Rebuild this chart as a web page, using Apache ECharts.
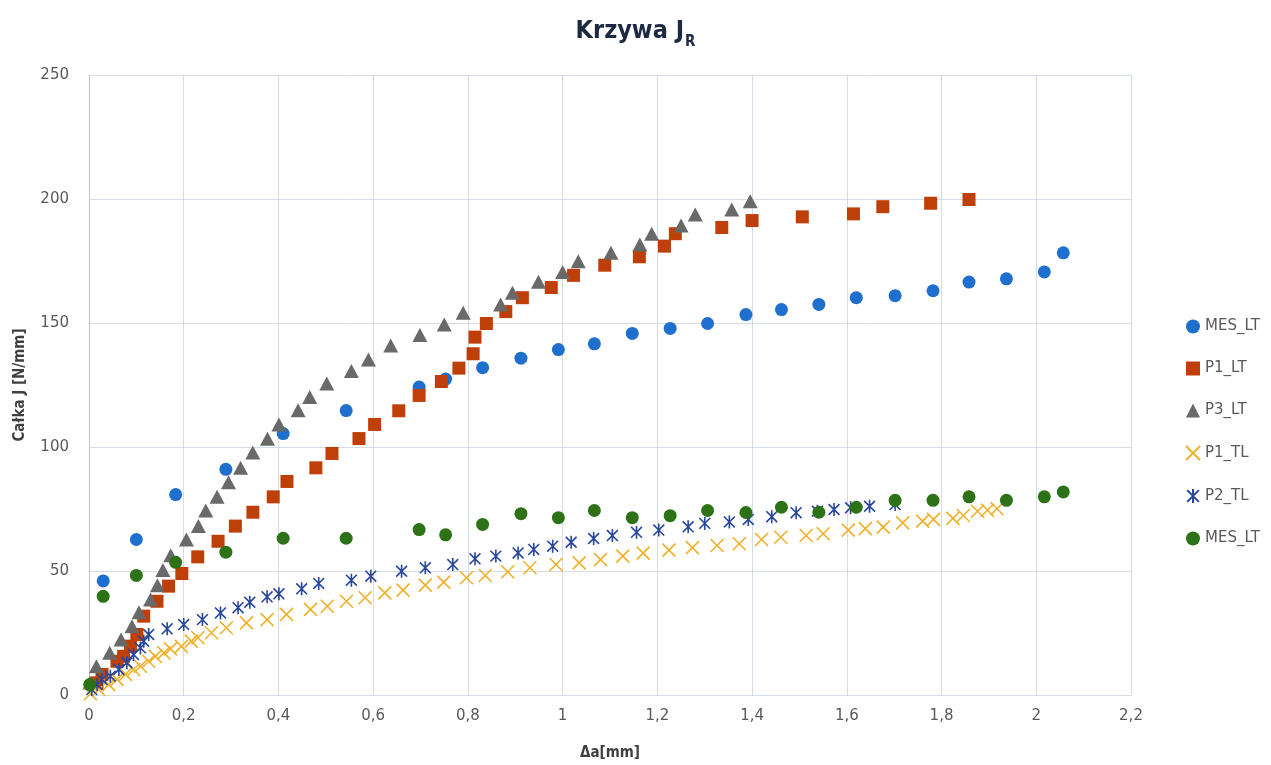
<!DOCTYPE html>
<html>
<head>
<meta charset="utf-8">
<title>Krzywa JR</title>
<script src="https://cdn.jsdelivr.net/npm/echarts@6/dist/echarts.min.js"></script>
<style>
  html, body { margin: 0; padding: 0; background: #fff; }
  #chart { width: 1271px; height: 765px; }
</style>
</head>
<body>
<div id="chart"></div>
<script>
// Axis ticks (Δa in mm, J in N/mm)
const xTicks = [0, 0.2, 0.4, 0.6, 0.8, 1, 1.2, 1.4, 1.6, 1.8, 2, 2.2];
const yTicks = [0, 50, 100, 150, 200, 250];

// Series names as shown in the legend
const seriesNames = ['MES_LT', 'P1_LT', 'P3_LT', 'P1_TL', 'P2_TL', 'MES_LT'];

// [Δa, J] points per series
const mesLtUpper = [
  [0.03, 46], [0.10, 62.7], [0.183, 80.8], [0.289, 91], [0.41, 105.4], [0.543, 114.7],
  [0.697, 124.2], [0.753, 127.4], [0.831, 132], [0.912, 135.8], [0.991, 139.3],
  [1.067, 141.6], [1.147, 145.8], [1.227, 147.8], [1.306, 149.8], [1.387, 153.4],
  [1.462, 155.4], [1.541, 157.5], [1.62, 160.2], [1.702, 161], [1.782, 163],
  [1.858, 166.5], [1.937, 167.8], [2.017, 170.6], [2.057, 178.3]
];

const p1Lt = [
  [0.017, 4.9], [0.0275, 8.3], [0.059, 13.6], [0.073, 15.6], [0.0875, 19.7], [0.101, 24.4],
  [0.1155, 31.8], [0.1436, 37.8], [0.168, 43.9], [0.196, 49.0], [0.2296, 55.7], [0.2725, 62.0],
  [0.309, 68.1], [0.346, 73.7], [0.389, 79.9], [0.418, 86.1], [0.479, 91.6], [0.513, 97.4],
  [0.570, 103.4], [0.603, 109.1], [0.654, 114.6], [0.697, 120.8], [0.744, 126.4],
  [0.781, 131.8], [0.811, 137.6], [0.815, 144.3], [0.839, 149.8], [0.880, 154.6],
  [0.915, 160.2], [0.976, 164.3], [1.023, 169.2], [1.089, 173.3], [1.162, 176.7],
  [1.215, 181.0], [1.238, 186.0], [1.336, 188.5], [1.400, 191.3], [1.506, 192.8],
  [1.614, 194.0], [1.676, 196.9], [1.777, 198.3], [1.858, 199.8]
];

const p3Lt = [
  [0.002, 5], [0.0156, 11.6], [0.0437, 17.0], [0.0676, 22.4], [0.0908, 27.7], [0.1056, 33.4],
  [0.130, 38.5], [0.1445, 44.3], [0.156, 50.4], [0.1726, 56.4], [0.2057, 62.7], [0.231, 68.1],
  [0.2465, 74.4], [0.2704, 79.9], [0.2945, 85.8], [0.320, 91.6], [0.3458, 97.8],
  [0.3768, 103.3], [0.401, 109.1], [0.4415, 114.8], [0.466, 120.2], [0.502, 125.6],
  [0.554, 130.6], [0.590, 135.3], [0.637, 140.9], [0.6986, 145.2], [0.750, 149.4],
  [0.790, 154.1], [0.869, 157.5], [0.894, 162.2], [0.949, 166.6], [1.000, 170.6],
  [1.033, 174.9], [1.102, 178.3], [1.163, 181.7], [1.188, 186.0], [1.250, 189.3],
  [1.280, 193.8], [1.357, 195.8], [1.396, 199.1]
];

const p1Tl = [
  [0.003, 0.5], [0.0205, 2.2], [0.0416, 4.2], [0.059, 6.3], [0.077, 8.3], [0.0944, 10.3],
  [0.1086, 11.6], [0.126, 13.6], [0.140, 15.6], [0.158, 17.0], [0.172, 18.6], [0.195, 19.6],
  [0.216, 21.7], [0.230, 23.1], [0.2586, 25.1], [0.290, 27.1], [0.3325, 29.1], [0.376, 30.4],
  [0.417, 32.5], [0.4677, 34.5], [0.503, 35.8], [0.5437, 37.8], [0.583, 39.2], [0.6245, 41.2],
  [0.663, 42.3], [0.710, 44.3], [0.749, 45.5], [0.797, 47.3], [0.8365, 48.2], [0.884, 49.7],
  [0.931, 51.3], [0.986, 52.6], [1.035, 53.3], [1.080, 54.6], [1.127, 56.0], [1.170, 57.2],
  [1.2245, 58.4], [1.274, 59.4], [1.326, 60.3], [1.373, 61.0], [1.420, 62.7], [1.4605, 63.6],
  [1.514, 64.3], [1.550, 65.0], [1.603, 66.5], [1.639, 67.1], [1.677, 67.7], [1.718, 69.4],
  [1.760, 70.1], [1.783, 70.8], [1.824, 71.2], [1.846, 72.4], [1.876, 74.1], [1.897, 74.5],
  [1.917, 75.1]
];

const p2Tl = [
  [0.006, 2.2], [0.017, 4.2], [0.0275, 6.25], [0.045, 7.6], [0.063, 10.3], [0.080, 13.0],
  [0.094, 16.3], [0.1086, 19.0], [0.1155, 21.7], [0.126, 24.4], [0.165, 26.7], [0.200, 28.4],
  [0.2395, 30.4], [0.2776, 33.1], [0.3147, 35.2], [0.3395, 37.4], [0.376, 39.6], [0.401, 40.8],
  [0.449, 42.8], [0.485, 45.0], [0.554, 46.3], [0.595, 47.9], [0.660, 49.9], [0.710, 51.3],
  [0.768, 52.6], [0.815, 54.9], [0.859, 56.0], [0.906, 57.3], [0.939, 58.7], [0.979, 60.0],
  [1.018, 61.6], [1.0655, 63.1], [1.105, 64.3], [1.156, 65.6], [1.203, 66.5], [1.265, 67.8],
  [1.300, 69.2], [1.352, 69.8], [1.392, 70.8], [1.4415, 71.9], [1.493, 73.5], [1.538, 74.1],
  [1.573, 74.8], [1.608, 75.5], [1.648, 76.1], [1.702, 76.8]
];

const mesLtLower = [
  [0.0015, 4.2], [0.03, 39.8], [0.10, 48.2], [0.183, 53.5], [0.289, 57.6], [0.41, 63.2],
  [0.543, 63.2], [0.697, 66.7], [0.753, 64.6], [0.831, 68.8], [0.912, 73.1], [0.991, 71.5],
  [1.067, 74.4], [1.147, 71.5], [1.227, 72.3], [1.306, 74.4], [1.387, 73.6], [1.462, 75.7],
  [1.541, 73.7], [1.62, 75.7], [1.702, 78.5], [1.782, 78.5], [1.858, 79.9], [1.937, 78.5],
  [2.017, 79.9], [2.057, 81.9]
];

const COLORS = {
  blue: '#1F6FCF',
  orange: '#BF3F08',
  gray: '#696969',
  yellow: '#F0B12A',
  navy: '#28479C',
  green: '#2D7216'
};

// Stroked marker shapes: a cross and a cross with a vertical bar
const CROSS = 'path://M0,0L10,10M10,0L0,10';
const STAR = 'path://M0,0L10,10M10,0L0,10M5,-1L5,11';

const condensed = "'Liberation Sans Narrow', 'DejaVu Sans Condensed', 'Roboto Condensed', sans-serif";
const tickFont = "'DejaVu Sans', 'Open Sans', sans-serif";

function fmtComma(v) {
  return String(Math.round(v * 10) / 10).replace('.', ',');
}

const chart = echarts.init(document.getElementById('chart'), null, { renderer: 'canvas' });

const option = {
  backgroundColor: '#ffffff',
  animation: false,
  title: {
    text: '{main|Krzywa J}{sub|R}',
    left: 'center',
    top: 14,
    textStyle: {
      rich: {
        main: { fontFamily: condensed, fontWeight: 'bold', fontSize: 25, color: '#1D2842', verticalAlign: 'bottom' },
        sub: { fontFamily: condensed, fontWeight: 'bold', fontSize: 15, color: '#1D2842', verticalAlign: 'bottom', padding: [0, 0, -6, 1] }
      }
    }
  },
  grid: { left: 89, right: 140, top: 75, bottom: 70, containLabel: false, outerBoundsMode: 'none' },
  legend: {
    orient: 'vertical',
    left: 1180,
    top: 314,
    itemWidth: 14,
    itemHeight: 14,
    itemGap: 27,
    textStyle: { fontFamily: tickFont, fontSize: 15, color: '#595959' },
    data: seriesNames.map((n, i) => i === 5 ? n + ' ' : n)
  },
  xAxis: {
    type: 'value',
    min: 0,
    max: 2.2,
    interval: 0.2,
    name: 'Δa[mm]',
    nameLocation: 'middle',
    nameGap: 51,
    nameTextStyle: { fontFamily: condensed, fontWeight: 'bold', fontSize: 15, color: '#404040' },
    axisLine: { show: true, lineStyle: { color: '#D6DCE6', width: 1 } },
    axisTick: { show: false },
    axisLabel: {
      margin: 14,
      fontFamily: tickFont, fontSize: 15, color: '#595959',
      formatter: fmtComma,
      customValues: xTicks
    },
    splitLine: { show: true, lineStyle: { color: '#D6DCE6', width: 1 } }
  },
  yAxis: {
    type: 'value',
    min: 0,
    max: 250,
    interval: 50,
    name: 'Całka J [N/mm]',
    nameLocation: 'middle',
    nameGap: 61,
    nameTextStyle: { fontFamily: condensed, fontWeight: 'bold', fontSize: 15, color: '#404040' },
    axisLine: { show: true, lineStyle: { color: '#B9C4D6', width: 1 } },
    axisTick: { show: false },
    axisLabel: {
      margin: 20,
      fontFamily: tickFont, fontSize: 15, color: '#595959',
      customValues: yTicks
    },
    splitLine: { show: true, lineStyle: { color: '#D6DCE6', width: 1 } }
  },
  series: [
    {
      name: seriesNames[0], type: 'scatter', data: mesLtUpper,
      symbol: 'circle', symbolSize: 13,
      itemStyle: { color: COLORS.blue, opacity: 1 }
    },
    {
      name: seriesNames[1], type: 'scatter', data: p1Lt,
      symbol: 'rect', symbolSize: 13,
      itemStyle: { color: COLORS.orange, opacity: 1 }
    },
    {
      name: seriesNames[2], type: 'scatter', data: p3Lt,
      symbol: 'triangle', symbolSize: [15, 14],
      itemStyle: { color: COLORS.gray, opacity: 1 }
    },
    {
      name: seriesNames[3], type: 'scatter', data: p1Tl,
      symbol: CROSS, symbolSize: 13, symbolKeepAspect: true,
      itemStyle: { color: 'rgba(0,0,0,0)', borderColor: COLORS.yellow, borderWidth: 1.6, opacity: 1 }
    },
    {
      name: seriesNames[4], type: 'scatter', data: p2Tl,
      symbol: STAR, symbolSize: 13, symbolKeepAspect: true,
      itemStyle: { color: 'rgba(0,0,0,0)', borderColor: COLORS.navy, borderWidth: 1.6, opacity: 1 }
    },
    {
      name: seriesNames[5] + ' ', type: 'scatter', data: mesLtLower,
      symbol: 'circle', symbolSize: 13,
      itemStyle: { color: COLORS.green, opacity: 1 }
    }
  ]
};

chart.setOption(option);
</script>
</body>
</html>
